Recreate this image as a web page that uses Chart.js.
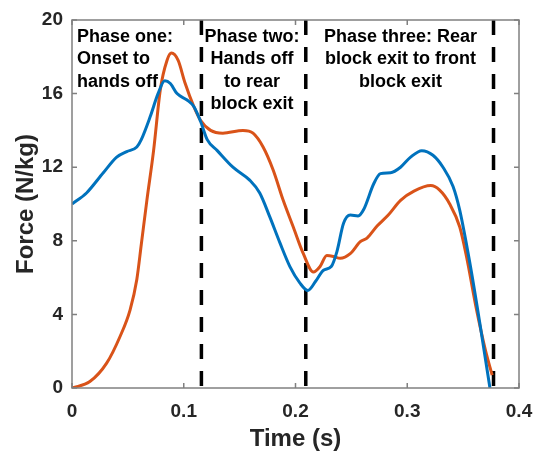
<!DOCTYPE html>
<html>
<head>
<meta charset="utf-8">
<script src="https://cdn.jsdelivr.net/npm/chart.js@4"></script>
<style>
  body { margin: 0; background: #fff; }
</style>
</head>
<body>
<canvas id="myChart" width="536" height="454"></canvas>
<script>
// time (s) and force (N/kg)
var blueTime  = [0, 0.013, 0.028, 0.040, 0.049, 0.058, 0.062, 0.070, 0.077, 0.083, 0.088, 0.094, 0.103, 0.109, 0.115, 0.121, 0.130, 0.144, 0.159, 0.168, 0.177, 0.186, 0.195, 0.204, 0.211, 0.218, 0.225, 0.232, 0.237, 0.243, 0.249, 0.256, 0.261, 0.270, 0.276, 0.285, 0.294, 0.303, 0.313, 0.323, 0.332, 0.341, 0.347, 0.356, 0.365, 0.374];
var blueForce = [10.0, 10.6, 11.7, 12.55, 12.85, 13.1, 13.5, 14.75, 16.0, 16.7, 16.55, 16.0, 15.65, 15.3, 14.5, 13.5, 12.9, 12.0, 11.3, 10.6, 9.3, 7.9, 6.6, 5.7, 5.3, 5.8, 6.4, 6.6, 7.4, 8.95, 9.4, 9.35, 9.7, 11.1, 11.65, 11.7, 12.0, 12.55, 12.9, 12.65, 12.0, 10.95, 9.65, 6.8, 3.5, 0];

var orangeTime  = [0, 0.016, 0.031, 0.043, 0.052, 0.058, 0.062, 0.067, 0.073, 0.079, 0.085, 0.089, 0.095, 0.101, 0.109, 0.115, 0.124, 0.135, 0.153, 0.162, 0.171, 0.180, 0.189, 0.198, 0.207, 0.216, 0.222, 0.228, 0.234, 0.240, 0.249, 0.258, 0.264, 0.273, 0.283, 0.294, 0.306, 0.321, 0.329, 0.338, 0.347, 0.353, 0.362, 0.370, 0.376];
var orangeForce = [0, 0.35, 1.35, 2.8, 4.25, 5.9, 7.8, 10.2, 12.9, 16.2, 17.8, 18.2, 17.8, 16.6, 15.3, 14.55, 14.0, 13.85, 14.0, 13.85, 13.1, 11.85, 10.2, 8.75, 7.3, 6.3, 6.6, 7.2, 7.15, 7.05, 7.3, 7.95, 8.15, 8.8, 9.4, 10.2, 10.7, 11.0, 10.75, 10.0, 8.75, 7.15, 4.25, 2.05, 0.7];

var phaseTimes = [0.1158, 0.2092, 0.3772];
var xTicks = [0, 0.1, 0.2, 0.3, 0.4];
var yTicks = [0, 4, 8, 12, 16, 20];

var phaseLabels = [
    { t: 0.0045, align: 'left',   lines: ['Phase one:', 'Onset to', 'hands off'] },
    { t: 0.161,  align: 'center', lines: ['Phase two:', 'Hands off', 'to rear', 'block exit'] },
    { t: 0.294,  align: 'center', lines: ['Phase three: Rear', 'block exit to front', 'block exit'] }
];

function toPoints(xs, ys) {
    var pts = [];
    for (let i = 0; i < xs.length; i++) {
        pts.push({ x: xs[i], y: ys[i] });
    }
    return pts;
}

var datasets = [
    {
        label: 'blue',
        data: toPoints(blueTime, blueForce),
        borderColor: '#0072BD',
        borderWidth: 3,
        pointRadius: 0,
        cubicInterpolationMode: 'monotone',
        fill: false
    },
    {
        label: 'orange',
        data: toPoints(orangeTime, orangeForce),
        borderColor: '#D95319',
        borderWidth: 3,
        pointRadius: 0,
        cubicInterpolationMode: 'monotone',
        fill: false
    }
];

for (let i = 0; i < phaseTimes.length; i++) {
    datasets.push({
        label: 'phase' + i,
        data: [{ x: phaseTimes[i], y: 20 }, { x: phaseTimes[i], y: 0 }],
        borderColor: '#000',
        borderWidth: 3.5,
        borderDash: [15, 12],
        pointRadius: 0,
        tension: 0,
        fill: false
    });
}

// box round the plot and inward tick marks, MATLAB style
var boxPlugin = {
    id: 'boxTicks',
    afterDatasetsDraw: function (chart) {
        var ctx = chart.ctx;
        var a = chart.chartArea;
        var xs = chart.scales.x, ys = chart.scales.y;
        ctx.save();
        ctx.strokeStyle = '#808080';
        ctx.lineWidth = 1.5;
        ctx.strokeRect(a.left, a.top, a.right - a.left, a.bottom - a.top);
        ctx.beginPath();
        xTicks.forEach(function (v) {
            var px = xs.getPixelForValue(v);
            ctx.moveTo(px, a.bottom); ctx.lineTo(px, a.bottom - 5);
            ctx.moveTo(px, a.top);    ctx.lineTo(px, a.top + 5);
        });
        yTicks.forEach(function (v) {
            var py = ys.getPixelForValue(v);
            ctx.moveTo(a.left, py);  ctx.lineTo(a.left + 5, py);
            ctx.moveTo(a.right, py); ctx.lineTo(a.right - 5, py);
        });
        ctx.stroke();

        // phase annotations
        ctx.fillStyle = '#000';
        ctx.font = 'bold 18px "Liberation Sans", Arial, sans-serif';
        ctx.textBaseline = 'middle';
        phaseLabels.forEach(function (p) {
            ctx.textAlign = p.align;
            var px = xs.getPixelForValue(p.t);
            p.lines.forEach(function (s, j) {
                ctx.fillText(s, px, a.top + 17 + j * 22.5);
            });
        });
        ctx.restore();
    }
};

var ctx = document.getElementById('myChart').getContext('2d');
var myChart = new Chart(ctx, {
    type: 'line',
    data: { datasets: datasets },
    options: {
        responsive: false,
        animation: false,
        layout: { padding: { top: 20, right: 17, left: 0, bottom: 0 } },
        plugins: {
            legend: { display: false },
            tooltip: { enabled: false }
        },
        scales: {
            x: {
                type: 'linear',
                min: 0,
                max: 0.4,
                afterBuildTicks: function (scale) {
                    scale.ticks = xTicks.map(function (v) { return { value: v }; });
                },
                afterFit: function (scale) {
                    scale.height = 66;
                    scale.paddingLeft = 0;
                    scale.paddingRight = 0;
                },
                grid: { display: false, drawTicks: false },
                border: { display: false },
                ticks: {
                    padding: 12,
                    color: '#262626',
                    font: { family: '"Liberation Sans", Arial, sans-serif', size: 19, weight: 'bold' },
                    callback: function (v) { return String(v); }
                },
                title: {
                    display: true,
                    text: 'Time (s)',
                    color: '#262626',
                    padding: { top: 0, bottom: 0 },
                    font: { family: '"Liberation Sans", Arial, sans-serif', size: 24, weight: 'bold' }
                }
            },
            y: {
                type: 'linear',
                min: 0,
                max: 20,
                afterBuildTicks: function (scale) {
                    scale.ticks = yTicks.map(function (v) { return { value: v }; });
                },
                afterFit: function (scale) {
                    scale.width = 72;
                    scale.paddingTop = 0;
                    scale.paddingBottom = 0;
                },
                grid: { display: false, drawTicks: false },
                border: { display: false },
                ticks: {
                    padding: 9,
                    color: '#262626',
                    font: { family: '"Liberation Sans", Arial, sans-serif', size: 19, weight: 'bold' }
                },
                title: {
                    display: true,
                    text: 'Force (N/kg)',
                    color: '#262626',
                    padding: { top: 12, bottom: 0 },
                    font: { family: '"Liberation Sans", Arial, sans-serif', size: 24, weight: 'bold' }
                }
            }
        }
    },
    plugins: [boxPlugin]
});
</script>
</body>
</html>
